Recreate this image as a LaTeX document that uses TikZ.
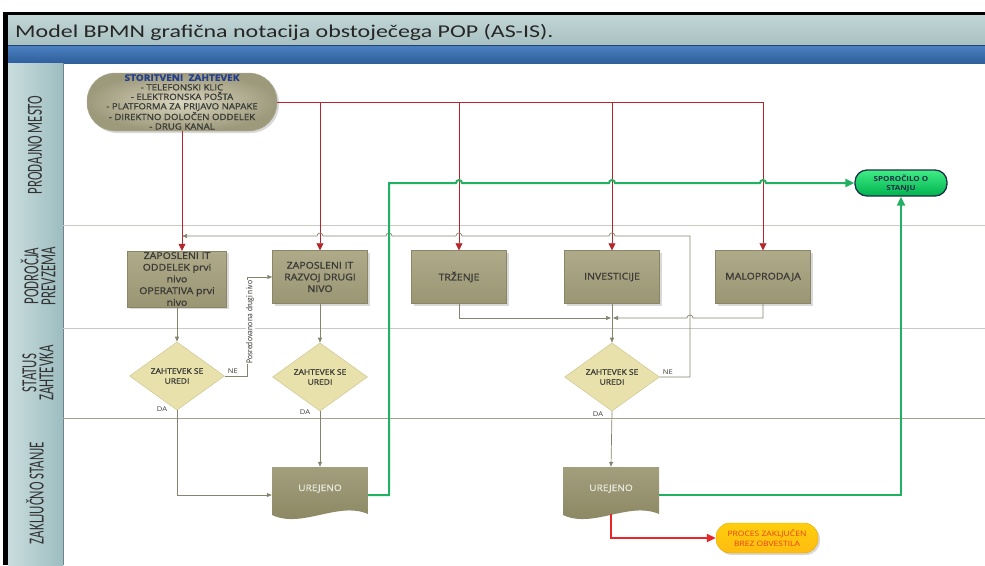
\documentclass[tikz,border=0pt]{standalone}
\usepackage{fontspec}
\setmainfont{Carlito}
\newfontfamily\titlefont[FakeStretch=1.33]{Carlito}
\newfontfamily\lanefont[FakeStretch=0.6]{Carlito}
\newfontfamily\shapefont[FakeStretch=1.15]{Open Sans}
\newfontfamily\boxfont[FakeStretch=1.12,FakeBold=1.2]{Open Sans}
\newfontfamily\notefont[FakeStretch=0.85]{Carlito}
\usetikzlibrary{shapes.geometric,arrows.meta,shadows}

\definecolor{bandtop}{HTML}{C3D6D6}
\definecolor{bandbottom}{HTML}{A8C1C2}
\definecolor{bluetop}{HTML}{4C81C1}
\definecolor{bluebottom}{HTML}{2F5F9C}
\definecolor{headleft}{HTML}{CADDDE}
\definecolor{headright}{HTML}{9DBDC0}
\definecolor{laneline}{HTML}{CACAC2}
\definecolor{lanelinedark}{HTML}{A3A28E}
\definecolor{boxtop}{HTML}{AFAB8A}
\definecolor{boxbottom}{HTML}{9A9573}
\definecolor{boxedge}{HTML}{8A8566}
\definecolor{boxtext}{HTML}{3A3A36}
\definecolor{diafill}{HTML}{E8E1AB}
\definecolor{diaedge}{HTML}{C9C28C}
\definecolor{doctop}{HTML}{A39F7D}
\definecolor{docbottom}{HTML}{88845F}
\definecolor{doctext}{HTML}{E8E8DE}
\definecolor{flowgray}{HTML}{85856F}
\definecolor{redline}{HTML}{B3262B}
\definecolor{redend}{HTML}{E8262A}
\definecolor{greenline}{HTML}{22B062}
\definecolor{msgtop}{HTML}{40EC85}
\definecolor{msgbottom}{HTML}{00B34E}
\definecolor{msgedge}{HTML}{1C3048}
\definecolor{endfill}{HTML}{FFC211}
\definecolor{endedge}{HTML}{E0A600}
\definecolor{endtext}{HTML}{E5401C}
\definecolor{startblue}{HTML}{243F8C}
\definecolor{startlight}{HTML}{D9D6BF}

\newcommand{\hopleft}[2]{-- (#1+3,#2) arc[start angle=0,end angle=180,radius=3pt]}
\newcommand{\hopright}[2]{-- (#1-3,#2) arc[start angle=180,end angle=0,radius=3pt]}

\begin{document}
\begin{tikzpicture}[x=1pt,y=-1pt,
    lanehead/.style={rotate=90,align=center,text=black!80,font=\lanefont\fontsize{21.5}{17}\selectfont},
    taskbox/.style={rectangle,draw=boxedge,top color=boxtop,bottom color=boxbottom,minimum width=95pt,minimum height=53pt,inner sep=1pt,align=center,text=boxtext,font=\boxfont\fontsize{9.4}{11.7}\selectfont,drop shadow={shadow xshift=2pt,shadow yshift=-2pt,opacity=0.3}},
    decision/.style={diamond,draw=diaedge,fill=diafill,minimum width=95pt,minimum height=55pt,inner sep=0pt,align=center,text=boxtext,font=\boxfont\fontsize{7.6}{10}\selectfont},
    docbox/.style={rectangle,minimum width=96pt,minimum height=56pt,text=doctext,font=\boxfont\fontsize{9}{11}\selectfont,
      path picture={\shade[top color=doctop,bottom color=docbottom]
        (path picture bounding box.north west) -- (path picture bounding box.north east)
        -- ([yshift=9pt]path picture bounding box.south east)
        .. controls ([xshift=-30pt,yshift=22pt]path picture bounding box.south east) and ([xshift=30pt,yshift=-6pt]path picture bounding box.south west) .. ([yshift=8pt]path picture bounding box.south west) -- cycle;}},
    startnode/.style={rectangle,rounded corners=28pt,draw=boxedge!70,inner color=startlight,outer color=boxtop!90!black,minimum width=190pt,minimum height=58pt,inner sep=0pt,align=center,text=boxtext,font=\boxfont\fontsize{8.6}{9.5}\selectfont,drop shadow={shadow xshift=2pt,shadow yshift=-2pt,opacity=0.3}},
    msgnode/.style={rectangle,rounded corners=12pt,draw=msgedge,line width=1.3pt,top color=msgtop,bottom color=msgbottom,minimum width=92pt,minimum height=26pt,inner sep=0pt,align=center,text=msgedge,font=\shapefont\bfseries\fontsize{7}{9}\selectfont},
    endnode/.style={rectangle,rounded corners=14pt,draw=endedge,top color=endfill!80!yellow,bottom color=endfill!90!orange,minimum width=102pt,minimum height=30pt,inner sep=0pt,align=center,text=endtext,font=\shapefont\fontsize{7.4}{9.4}\selectfont,drop shadow={shadow xshift=2pt,shadow yshift=-2pt,opacity=0.3}},
    flowlabel/.style={inner sep=0pt,text=boxtext,font=\shapefont\fontsize{6.6}{8}\selectfont},
    flow/.style={color=flowgray,line width=0.7pt,-{Triangle[length=5pt,width=4pt]}},
    redflow/.style={color=redline,line width=0.7pt,-{Triangle[length=7pt,width=7pt]}},
    greenflow/.style={color=greenline,line width=2pt,-{Triangle[length=9pt,width=8pt]}},
    endflow/.style={color=redend,line width=2pt,-{Triangle[length=9pt,width=8pt]}}]
  \useasboundingbox (0,0) rectangle (985,565);

  \shade[top color=bandtop,bottom color=bandbottom] (8,14) rectangle (985,45);
  \shade[top color=bluetop,bottom color=bluebottom] (8,45) rectangle (985,63);
  \draw[bluebottom!70!black,line width=0.8pt] (8,45) -- (985,45);
  \node[anchor=base west,inner sep=0pt,text=black!85,font=\titlefont\fontsize{18}{20}\selectfont] (title) at (15,37) {Model BPMN grafična notacija obstoječega POP (AS-IS).};

  \shade[left color=headleft,right color=headright] (8,63) rectangle (63,224.5);
  \shade[left color=headleft,right color=headright] (8,225.5) rectangle (63,327.5);
  \shade[left color=headleft,right color=headright] (8,328.5) rectangle (63,417.5);
  \shade[left color=headleft,right color=headright] (8,418.5) rectangle (63,565);
  \draw[headright!70!black,line width=0.6pt] (63,63) -- (63,565);
  \draw[laneline,line width=1pt] (63,225) -- (985,225);
  \draw[laneline,line width=1pt] (63,328) -- (985,328);
  \draw[lanelinedark,line width=1pt] (63,418) -- (985,418);
  \draw[black,line width=2.5pt] (3,13.5) -- (985,13.5);
  \draw[black,line width=5pt] (5.5,12) -- (5.5,565);

  \node[lanehead] (lane1) at (35,145) {PRODAJNO MESTO};
  \node[lanehead] (lane2) at (38,276) {PODROČJA\\PREVZEMA};
  \node[lanehead] (lane3) at (38,373) {STATUS\\ZAHTEVKA};
  \node[lanehead] (lane4) at (35,493) {ZAKLJUČNO STANJE};

  \node[startnode] (start) at (182,102) {{\color{startblue}\bfseries\fontsize{9}{9.5}\selectfont STORITVENI\ \ ZAHTEVEK}\\- TELEFONSKI KLIC\\- ELEKTRONSKA POŠTA\\- PLATFORMA ZA PRIJAVO NAPAKE\\- DIREKTNO DOLOČEN ODDELEK\\- DRUG KANAL};

  \node[taskbox,minimum width=99pt,minimum height=56pt] (b1) at (177,279) {ZAPOSLENI IT\\ODDELEK prvi\\nivo\\OPERATIVA prvi\\nivo};
  \node[taskbox] (b2) at (320,277) {ZAPOSLENI IT\\RAZVOJ DRUGI\\NIVO};
  \node[taskbox] (b3) at (459,277) {TRŽENJE};
  \node[taskbox] (b4) at (612,277) {INVESTICIJE};
  \node[taskbox] (b5) at (763,277) {MALOPRODAJA};

  \node[decision] (d1) at (177,376) {ZAHTEVEK SE\\UREDI};
  \node[decision] (d2) at (320,377) {ZAHTEVEK SE\\UREDI};
  \node[decision] (d3) at (612,377) {ZAHTEVEK SE\\UREDI};

  \node[docbox] (doc1) at (320,495) {\raisebox{4pt}[0pt][0pt]{UREJENO}};
  \node[docbox] (doc2) at (611,495) {\raisebox{4pt}[0pt][0pt]{UREJENO}};

  \node[msgnode] (msg) at (901,183) {SPOROČILO O\\STANJU};
  \node[endnode] (endp) at (767,538) {PROCES ZAKLJUČEN\\BREZ OBVESTILA};

  \coordinate (fbturn) at (690,236);
  \coordinate (merge) at (612,318);

  \draw[redflow] (start.south) -- (start.south |- b1.north);
  \draw[redflow] (start.east) -| (b5.north);
  \draw[redflow] (start.east -| b2.north) -- (b2.north);
  \draw[redflow] (start.east -| b3.north) -- (b3.north);
  \draw[redflow] (start.east -| b4.north) -- (b4.north);

  \draw[flow] (d3.east) -| (fbturn) \hopleft{612}{236} \hopleft{459}{236} \hopleft{389}{236} \hopleft{320}{236} -- (start.south |- fbturn);
  \draw[flow] (b1.south) -- (d1.north);
  \draw[flow] (b2.south) -- (d2.north);
  \draw[flow] (b4.south) -- (d3.north);
  \draw[flow] (b3.south) |- ([xshift=-1pt]merge);
  \draw[flow] (b5.south) -- (b5.south |- merge) \hopleft{690}{318} -- ([xshift=1pt]merge);
  \draw[flow] (d1.east) -- ++(23,0) |- (b2.west);
  \draw[flow] (d1.south) |- (doc1.west);
  \draw[flow] (d2.south) -- (doc1.north);
  \draw[flow] (d3.south) -- (doc2.north);

  \draw[greenflow] (doc1.east) -| (389,183) \hopright{459}{183} \hopright{612}{183} \hopright{763}{183} -- (msg.west);
  \draw[greenflow] (doc2.east) -| (msg.south);
  \draw[endflow] ([yshift=9pt]doc2.south) |- (endp.west);

  \node[fill=white,inner sep=0.6pt,rotate=90,text=boxtext,font=\notefont\fontsize{9}{10}\selectfont] (handover) at (250,322) {Posredovano na drugi nivo};
  \node[flowlabel,anchor=south west] (d1ne) at ([xshift=3pt,yshift=2pt]d1.east) {NE};
  \node[flowlabel,anchor=south west] (d3ne) at ([xshift=3pt,yshift=2pt]d3.east) {NE};
  \node[flowlabel] (d1da) at ([xshift=-15pt,yshift=1pt]d1.south) {DA};
  \node[flowlabel] (d2da) at ([xshift=-15pt,yshift=-1pt]d2.south) {DA};
  \node[flowlabel] (d3da) at ([xshift=-14pt,yshift=-3pt]d3.south) {DA};
\end{tikzpicture}
\end{document}
